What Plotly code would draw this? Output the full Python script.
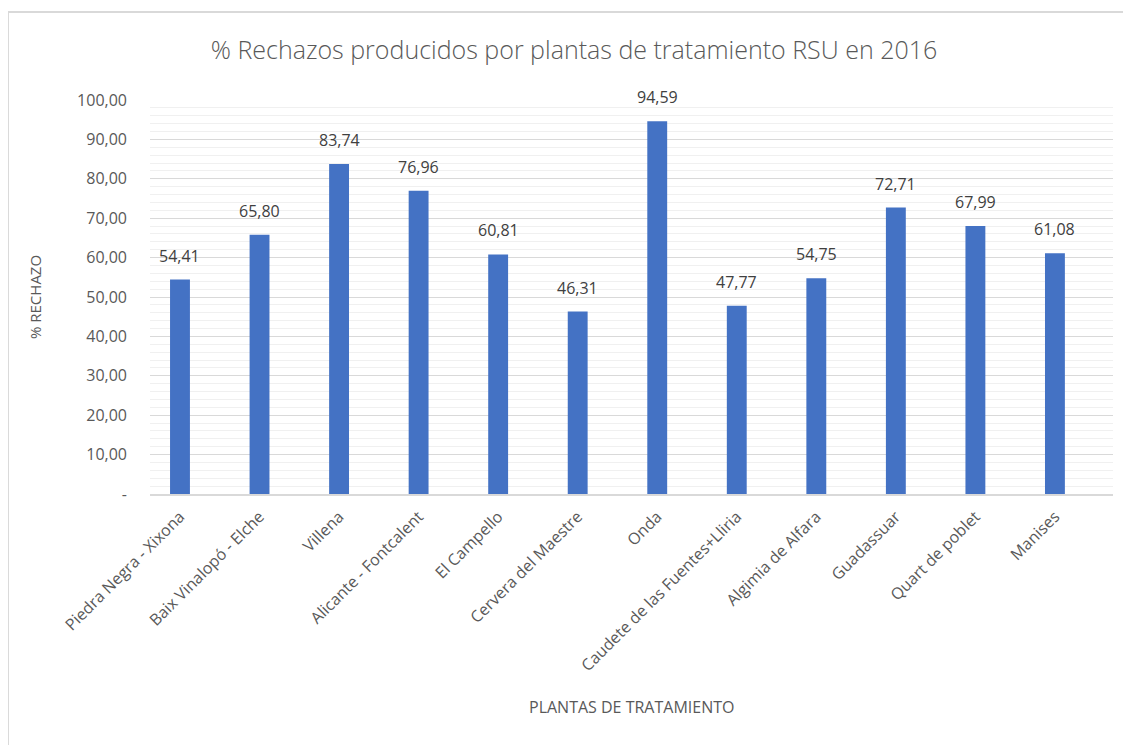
import plotly.graph_objects as go

categories = ["Piedra Negra - Xixona", "Baix Vinalopó - Elche", "Villena", "Alicante - Fontcalent",
              "El Campello", "Cervera del Maestre", "Onda", "Caudete de las Fuentes+Lliria",
              "Algimia de Alfara", "Guadassuar", "Quart de poblet", "Manises"]
values = [54.41, 65.80, 83.74, 76.96, 60.81, 46.31, 94.59, 47.77, 54.75, 72.71, 67.99, 61.08]
ytick_vals = [0, 10, 20, 30, 40, 50, 60, 70, 80, 90, 100]
ytick_text = ["-", "10,00", "20,00", "30,00", "40,00", "50,00", "60,00", "70,00", "80,00", "90,00", "100,00"]

FONT = "Open Sans"
GREY = "#595959"

xs = list(range(len(categories)))

fig = go.Figure()
fig.add_trace(go.Bar(x=xs, y=values, width=0.25, marker=dict(color="#4472C4", line=dict(width=0)),
                     hoverinfo="y"))

for x, v in zip(xs, values):
    fig.add_annotation(x=x, y=v, text=f"{v:.2f}".replace(".", ","), showarrow=False,
                       yanchor="bottom", yshift=11,
                       font=dict(family=FONT, size=16, color="#404040"))

fig.add_annotation(xref="paper", yref="paper", x=-0.1194, y=0.5, text="% RECHAZO", textangle=-90,
                   xanchor="center", yanchor="middle",
                   showarrow=False, font=dict(family=FONT, size=15, color=GREY))
fig.add_annotation(xref="paper", yref="paper", x=0.5, y=-0.5406, text="PLANTAS DE TRATAMIENTO",
                   xanchor="center", yanchor="middle",
                   showarrow=False, font=dict(family=FONT, size=16, color=GREY))

fig.add_shape(type="rect", xref="paper", yref="paper", x0=-0.1475, y0=-0.7, x1=1.04, y1=1.2234,
              line=dict(color="#d9d9d9", width=2), layer="below")

fig.update_layout(
    width=1123, height=737,
    margin=dict(l=142, r=18, t=92, b=251),
    paper_bgcolor="white", plot_bgcolor="white",
    showlegend=False,
    title=dict(text="% Rechazos producidos por plantas de tratamiento RSU en 2016",
               x=0.504, xanchor="center", y=1 - 42 / 737, yanchor="middle",
               font=dict(family=FONT, size=25, color=GREY, weight=300)),
    xaxis=dict(tickmode="array", tickvals=xs, ticktext=categories, tickangle=-45,
               range=[-0.377, 11.73], showgrid=False, showline=True, linecolor="#d9d9d9",
               linewidth=2, ticks="", zeroline=False, ticklabelstandoff=5,
               tickfont=dict(family=FONT, size=16, color=GREY)),
    yaxis=dict(range=[0, 100], tickmode="array", tickvals=ytick_vals, ticktext=ytick_text,
               showgrid=True, gridcolor="#d9d9d9", gridwidth=1, zeroline=False,
               ticklabelstandoff=22,
               minor=dict(dtick=2, showgrid=True, gridcolor="#f0f0f0", gridwidth=1),
               tickfont=dict(family=FONT, size=16, color=GREY)),
)

fig.write_html("out.html")
